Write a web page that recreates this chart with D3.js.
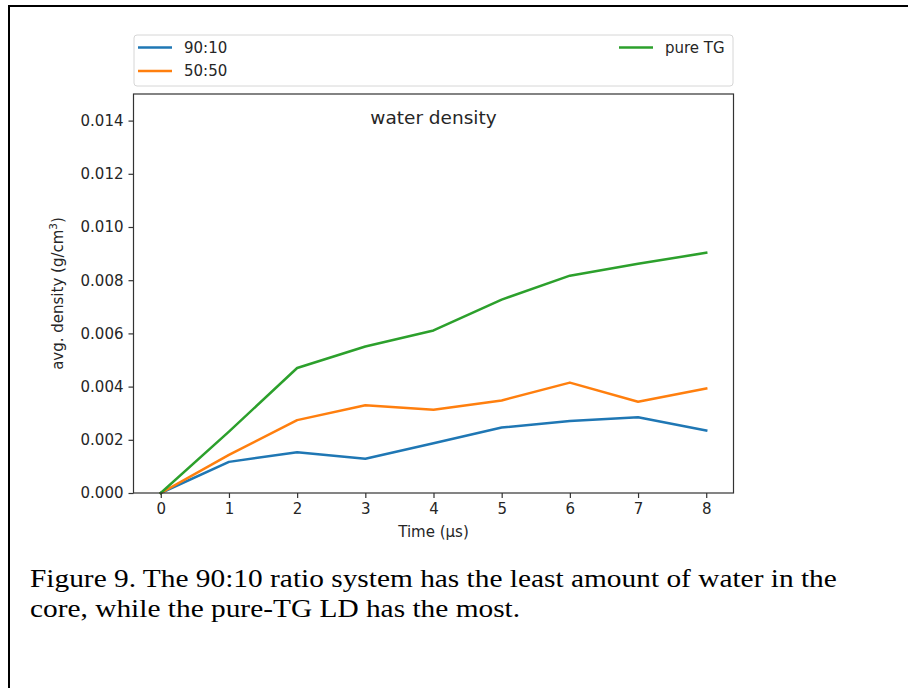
<!DOCTYPE html>
<html>
<head>
<meta charset="utf-8">
<script src="https://cdn.jsdelivr.net/npm/d3@7"></script>
<style>
  html, body { margin: 0; padding: 0; background: #fff; }
  svg { display: block; }
  .tick text { font-family: "DejaVu Sans", sans-serif; font-size: 15px; fill: #262626; }
</style>
</head>
<body>
<svg id="fig" width="908" height="688"></svg>
<script>
// Simulation time points (µs) and average water density in the core (g/cm³)
const times = [0, 1, 2, 3, 4, 5, 6, 7, 8];
const ratio9010 = [0, 0.00117, 0.00153, 0.00129, 0.00187, 0.00246, 0.00271, 0.00285, 0.00235];
const ratio5050 = [0, 0.00143, 0.00274, 0.00330, 0.00313, 0.00348, 0.00415, 0.00343, 0.00393];
const pureTG    = [0, 0.00231, 0.00470, 0.00551, 0.00611, 0.00727, 0.00817, 0.00862, 0.00903];
const seriesNames = ["90:10", "50:50", "pure TG"];
const seriesColors = ["#1f77b4", "#ff7f0e", "#2ca02c"];
const yTicks = [0, 0.002, 0.004, 0.006, 0.008, 0.010, 0.012, 0.014];
const xTicks = [0, 1, 2, 3, 4, 5, 6, 7, 8];
const captionLines = [
  "Figure 9. The 90:10 ratio system has the least amount of water in the",
  "core, while the pure-TG LD has the most."
];

const series = [ratio9010, ratio5050, pureTG].map((vals, i) => ({
  name: seriesNames[i],
  color: seriesColors[i],
  points: times.map((t, j) => [t, vals[j]])
}));

const svg = d3.select("#fig");

// Page frame (top and left rules)
svg.append("line").attr("x1", 8.5).attr("y1", 6).attr("x2", 908).attr("y2", 6)
  .attr("stroke", "#000").attr("stroke-width", 2);
svg.append("line").attr("x1", 9).attr("y1", 5).attr("x2", 9).attr("y2", 688)
  .attr("stroke", "#000").attr("stroke-width", 2);

// Plot area
const plot = { left: 133.5, right: 733.5, top: 94, bottom: 493 };

const x = d3.scaleLinear().domain([-0.4, 8.4]).range([plot.left, plot.right]);
const y = d3.scaleLinear().domain([0, 0.015]).range([plot.bottom, plot.top]);

// Series lines
const line = d3.line().x(d => x(d[0])).y(d => y(d[1]));
const lines = svg.append("g");
series.forEach(s => {
  lines.append("path")
    .attr("d", line(s.points))
    .attr("fill", "none")
    .attr("stroke", s.color)
    .attr("stroke-width", 2.5)
    .attr("stroke-linejoin", "round")
    .attr("stroke-linecap", "square");
});

// Axes
const xAxis = d3.axisBottom(x).tickValues(xTicks).tickSize(5).tickPadding(5).tickFormat(d3.format("d"));
const yAxis = d3.axisLeft(y).tickValues(yTicks).tickSize(5).tickPadding(5).tickFormat(d3.format(".3f"));

const gx = svg.append("g").attr("transform", `translate(0,${plot.bottom})`).call(xAxis);
const gy = svg.append("g").attr("transform", `translate(${plot.left},0)`).call(yAxis);
[gx, gy].forEach(g => {
  g.select(".domain").remove();
  g.selectAll(".tick line").attr("stroke", "#333").attr("stroke-width", 1.2);
});

// Axes frame
svg.append("rect")
  .attr("x", plot.left).attr("y", plot.top)
  .attr("width", plot.right - plot.left).attr("height", plot.bottom - plot.top)
  .attr("fill", "none").attr("stroke", "#333").attr("stroke-width", 1.2);

// Title inside the axes
svg.append("text")
  .attr("x", (plot.left + plot.right) / 2).attr("y", 124)
  .attr("text-anchor", "middle")
  .attr("font-family", "DejaVu Sans, sans-serif").attr("font-size", 18.5)
  .attr("fill", "#262626")
  .text("water density");

// Axis labels
svg.append("text")
  .attr("x", (plot.left + plot.right) / 2).attr("y", 537)
  .attr("text-anchor", "middle")
  .attr("font-family", "DejaVu Sans, sans-serif").attr("font-size", 15)
  .attr("fill", "#262626")
  .text("Time (µs)");

const yl = svg.append("text")
  .attr("transform", `translate(63,${(plot.top + plot.bottom) / 2}) rotate(-90)`)
  .attr("text-anchor", "middle")
  .attr("font-family", "DejaVu Sans, sans-serif").attr("font-size", 15)
  .attr("fill", "#262626");
yl.append("tspan").text("avg. density (g/cm");
yl.append("tspan").attr("dy", -6).attr("font-size", 10.5).text("3");
yl.append("tspan").attr("dy", 6).text(")");

// Legend (expanded across the axes width, two columns)
const legend = svg.append("g");
legend.append("rect")
  .attr("x", 134).attr("y", 35).attr("width", 599).attr("height", 51)
  .attr("rx", 3).attr("fill", "#fff").attr("stroke", "#d6d6d6").attr("stroke-width", 1);
const legendSlots = [
  { x: 138, y: 47.5 },
  { x: 138, y: 71 },
  { x: 619, y: 47.5 }
];
series.forEach((s, i) => {
  const p = legendSlots[i];
  legend.append("line")
    .attr("x1", p.x).attr("x2", p.x + 34).attr("y1", p.y).attr("y2", p.y)
    .attr("stroke", s.color).attr("stroke-width", 2.5);
  legend.append("text")
    .attr("x", p.x + 46).attr("y", p.y).attr("dy", "0.36em")
    .attr("font-family", "DejaVu Sans, sans-serif").attr("font-size", 15)
    .attr("fill", "#262626")
    .text(s.name);
});

// Caption (serif, set slightly wide)
const cap = svg.append("g")
  .attr("transform", "translate(30,0) scale(1.175,1)")
  .append("text")
  .attr("font-family", "Liberation Serif, Times New Roman, serif")
  .attr("font-size", 25).attr("fill", "#000");
captionLines.forEach((t, i) => {
  cap.append("tspan").attr("x", 0).attr("y", 587 + i * 30).text(t);
});
</script>
</body>
</html>
